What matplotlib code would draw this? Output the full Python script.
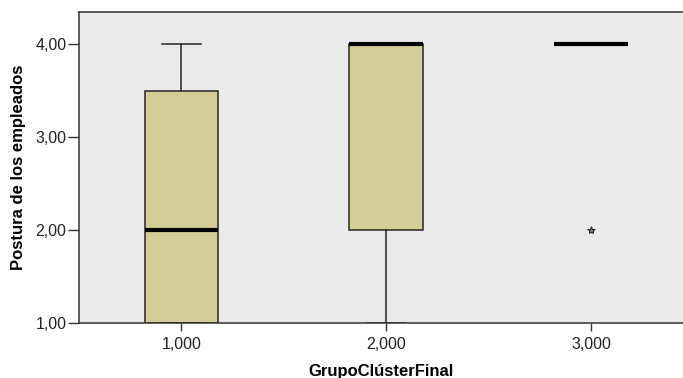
import matplotlib
matplotlib.use("Agg")
import matplotlib.pyplot as plt

plt.rcParams['font.family'] = ['Liberation Sans', 'DejaVu Sans']

# Box plot summary statistics per cluster group
groups = ["1,000", "2,000", "3,000"]
positions = [1, 2, 3]
q1 = [1.0, 2.0, 4.0]
median = [2.0, 4.0, 4.0]
q3 = [3.5, 4.0, 4.0]
whisker_low = [1.0, 1.0, 4.0]
whisker_high = [4.0, 4.0, 4.0]
outliers = [[], [], [2.0]]

y_ticks = [1.0, 2.0, 3.0, 4.0]
y_tick_labels = ["1,00", "2,00", "3,00", "4,00"]

stats = []
for i in range(len(groups)):
    stats.append(dict(label=groups[i], q1=q1[i], med=median[i], q3=q3[i],
                      whislo=whisker_low[i], whishi=whisker_high[i],
                      fliers=outliers[i]))

fig = plt.figure(figsize=(6.83, 3.78), dpi=100)
ax = fig.add_axes([79 / 683, 1 - 323 / 378, 1 - 79 / 683, (323 - 12) / 378])
ax.set_facecolor('#EAEAEA')

edge = '#262626'
ax.bxp(stats, positions=positions, widths=0.36, capwidths=0.19,
       patch_artist=True, showfliers=True,
       boxprops=dict(facecolor='#D3CE98', edgecolor=edge, linewidth=1.1),
       medianprops=dict(color='black', linewidth=3.0, solid_capstyle='butt'),
       whiskerprops=dict(color=edge, linewidth=1.1),
       capprops=dict(color=edge, linewidth=1.1),
       flierprops=dict(marker='*', markersize=6, markerfacecolor='#777777',
                       markeredgecolor='#222222', markeredgewidth=0.7))

ax.set_xlim(0.5, 0.5 + (683 - 78.5) / 205)
ax.set_ylim(1.0, 4.0 + 32 / 93)

ax.set_yticks(y_ticks)
ax.set_yticklabels(y_tick_labels)
ax.set_xticks(positions)
ax.set_xticklabels(groups)

ax.tick_params(axis='y', length=8, width=1, color='#333333', pad=1,
               labelsize=11.5, labelcolor='#222222')
ax.tick_params(axis='x', length=6, width=1, color='#333333', pad=4,
               labelsize=11.5, labelcolor='#222222')

for side in ['left', 'bottom', 'top']:
    ax.spines[side].set_color('#333333')
    ax.spines[side].set_linewidth(1.1)
ax.spines['right'].set_visible(False)

ax.set_ylabel("Postura de los empleados", fontsize=12, fontweight='bold',
              labelpad=7)
ax.set_xlabel("GrupoClústerFinal", fontsize=12, fontweight='bold', labelpad=9)

fig.savefig("out.png", dpi=100, facecolor='white')
